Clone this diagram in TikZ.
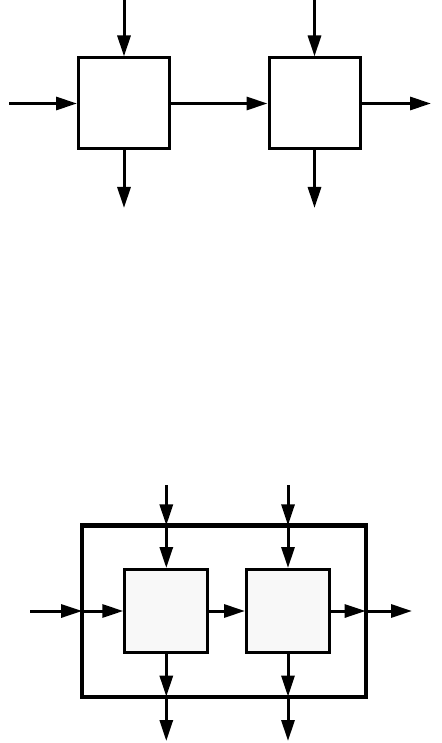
\documentclass[tikz,border=0pt]{standalone}
\usetikzlibrary{arrows.meta,positioning,calc}
\definecolor{blockfill}{RGB}{248,248,248}

\begin{document}
\begin{tikzpicture}[x=1pt,y=-1pt,
    blk/.style={draw,line width=3pt,minimum size=91pt,inner sep=0pt},
    subblk/.style={blk,fill=blockfill,minimum size=83pt},
    flow/.style={line width=3pt,-{Triangle[length=21pt,width=13pt]}}]
  \useasboundingbox (0,0) rectangle (441,743);
  % two processes side by side
  \node[blk] (procA) at (124,103.5) {};
  \node[blk] (procB) at (314.5,103.5) {};
  \coordinate (inA) at (124,0);
  \coordinate (inB) at (314.5,0);
  \coordinate (leftA) at (9,103.5);
  \coordinate (rightB) at (431,103.5);
  \coordinate (outA) at (124,208);
  \coordinate (outB) at (314.5,208);
  \draw[flow] (inA) -- (procA);
  \draw[flow] (inB) -- (procB);
  \draw[flow] (leftA) -- (procA);
  \draw[flow] (procA) -- (procB);
  \draw[flow] (procB) -- (rightB);
  \draw[flow] (procA) -- (outA);
  \draw[flow] (procB) -- (outB);

  % the same two, wrapped in one system
  \node[draw,line width=4.2pt,minimum width=283.5pt,minimum height=171.2pt,
    inner sep=0pt,outer sep=0pt] (system) at (223.9,611) {};
  \node[subblk] (subA) at (166.3,611) {};
  \node[subblk] (subB) at (288,611) {};
  \coordinate (sinA) at (166.3,485);
  \coordinate (sinB) at (288,485);
  \coordinate (sleft) at (30,611);
  \coordinate (sright) at (412,611);
  \coordinate (soutA) at (166.3,741);
  \coordinate (soutB) at (288,741);
  \draw[flow] (sinA) -- (subA |- system.north);
  \draw[flow] (subA |- system.north) -- (subA);
  \draw[flow] (sinB) -- (subB |- system.north);
  \draw[flow] (subB |- system.north) -- (subB);
  \draw[flow] (sleft) -- (system.west);
  \draw[flow] (system.west) -- (subA);
  \draw[flow] (subA) -- (subB);
  \draw[flow] (subB) -- (system.east);
  \draw[flow] (system.east) -- (sright);
  \draw[flow] (subA) -- (subA |- system.south);
  \draw[flow] (subA |- system.south) -- (soutA);
  \draw[flow] (subB) -- (subB |- system.south);
  \draw[flow] (subB |- system.south) -- (soutB);
\end{tikzpicture}
\end{document}
